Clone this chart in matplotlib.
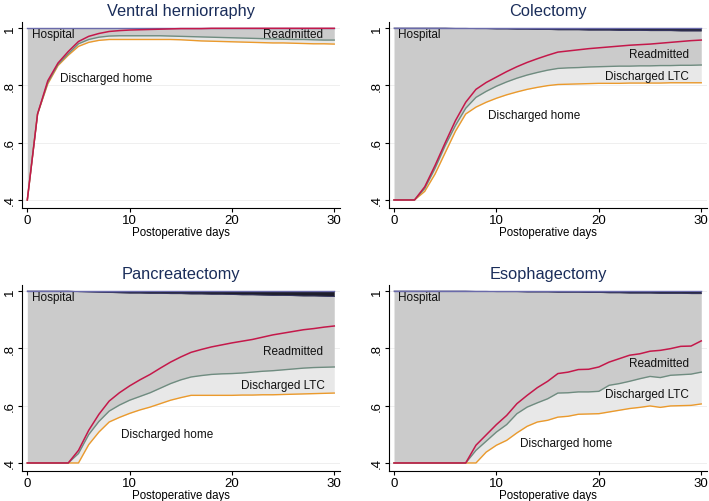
import numpy as np
import matplotlib
matplotlib.use("Agg")
import matplotlib.pyplot as plt

plt.rcParams['font.family'] = ['Liberation Sans', 'DejaVu Sans']

days = list(range(31))

# 值低於 .4 的部分以 0 記錄，繪圖時夾到 .4
# Ventral herniorraphy
vh_home = [0.0, 0.70, 0.805, 0.869, 0.905, 0.936, 0.950, 0.957, 0.960, 0.960, 0.960, 0.960, 0.960, 0.960, 0.960,
           0.959, 0.957, 0.955, 0.954, 0.953, 0.952, 0.951, 0.950, 0.949, 0.948, 0.948, 0.947, 0.946, 0.945, 0.945, 0.944]
vh_ltc = [0.0, 0.70, 0.81, 0.873, 0.91, 0.945, 0.960, 0.968, 0.972, 0.973, 0.973, 0.973, 0.973, 0.973, 0.972,
          0.971, 0.970, 0.969, 0.968, 0.967, 0.966, 0.965, 0.964, 0.963, 0.962, 0.961, 0.960, 0.960, 0.959, 0.958, 0.958]
vh_readm = [0.0, 0.70, 0.816, 0.878, 0.918, 0.953, 0.971, 0.981, 0.988, 0.991, 0.993, 0.994, 0.995, 0.996, 0.997,
            0.998, 0.998, 0.998, 0.999, 0.999, 0.999, 0.999, 0.999, 0.999, 0.999, 0.999, 0.999, 0.999, 0.999, 0.999, 0.999]
vh_hosp = [1.0, 1.0, 1.0, 1.0, 1.0, 1.0, 1.0, 1.0, 1.0, 1.0, 1.0, 1.0, 1.0, 1.0, 1.0,
           1.0, 1.0, 1.0, 1.0, 1.0, 1.0, 1.0, 1.0, 1.0, 1.0, 1.0, 1.0, 1.0, 1.0, 1.0, 1.0]

# Colectomy
co_home = [0.0, 0.0, 0.0, 0.43, 0.49, 0.565, 0.64, 0.70, 0.724, 0.741, 0.755, 0.767, 0.777, 0.786, 0.793,
           0.799, 0.803, 0.804, 0.805, 0.806, 0.807, 0.807, 0.807, 0.808, 0.808, 0.808, 0.808, 0.809, 0.809, 0.809, 0.809]
co_ltc = [0.0, 0.0, 0.0, 0.44, 0.51, 0.59, 0.66, 0.72, 0.758, 0.779, 0.797, 0.812, 0.825, 0.836, 0.845,
          0.853, 0.859, 0.861, 0.862, 0.864, 0.865, 0.866, 0.867, 0.867, 0.868, 0.868, 0.869, 0.869, 0.870, 0.870, 0.871]
co_readm = [0.0, 0.0, 0.0, 0.446, 0.52, 0.60, 0.677, 0.741, 0.786, 0.810, 0.829, 0.848, 0.865, 0.880, 0.893,
            0.905, 0.916, 0.920, 0.924, 0.928, 0.931, 0.934, 0.937, 0.940, 0.942, 0.944, 0.947, 0.950, 0.953, 0.956, 0.958]
co_hosp = [1.0, 1.0, 1.0, 1.0, 1.0, 1.0, 0.999, 0.999, 0.998, 0.998, 0.997, 0.997, 0.996, 0.996, 0.995,
           0.995, 0.994, 0.994, 0.994, 0.993, 0.993, 0.993, 0.992, 0.992, 0.992, 0.991, 0.991, 0.991, 0.990, 0.990, 0.990]

# Pancreatectomy
pa_home = [0.0, 0.0, 0.0, 0.0, 0.0, 0.0, 0.464, 0.508, 0.543, 0.559, 0.573, 0.585, 0.595, 0.607, 0.619,
           0.628, 0.636, 0.636, 0.636, 0.636, 0.636, 0.637, 0.637, 0.638, 0.638, 0.639, 0.640, 0.641, 0.642, 0.643, 0.644]
pa_ltc = [0.0, 0.0, 0.0, 0.0, 0.0, 0.433, 0.499, 0.545, 0.581, 0.602, 0.619, 0.632, 0.645, 0.661, 0.677,
          0.690, 0.700, 0.705, 0.709, 0.711, 0.712, 0.714, 0.717, 0.720, 0.722, 0.725, 0.728, 0.731, 0.733, 0.734, 0.735]
pa_readm = [0.0, 0.0, 0.0, 0.0, 0.0, 0.444, 0.514, 0.57, 0.616, 0.645, 0.669, 0.690, 0.709, 0.731, 0.752,
            0.770, 0.786, 0.796, 0.805, 0.812, 0.819, 0.825, 0.831, 0.839, 0.847, 0.853, 0.859, 0.865, 0.869, 0.874, 0.878]
pa_hosp = [1.0, 1.0, 1.0, 1.0, 1.0, 0.998, 0.997, 0.996, 0.995, 0.994, 0.993, 0.993, 0.992, 0.992, 0.991,
           0.991, 0.990, 0.990, 0.989, 0.989, 0.988, 0.987, 0.987, 0.986, 0.985, 0.985, 0.984, 0.983, 0.983, 0.982, 0.981]

# Esophagectomy
es_home = [0.0, 0.0, 0.0, 0.0, 0.0, 0.0, 0.0, 0.0, 0.0, 0.438, 0.462, 0.479, 0.505, 0.528, 0.543,
           0.549, 0.560, 0.563, 0.570, 0.571, 0.572, 0.578, 0.584, 0.590, 0.594, 0.599, 0.594, 0.599, 0.600, 0.601, 0.606]
es_ltc = [0.0, 0.0, 0.0, 0.0, 0.0, 0.0, 0.0, 0.0, 0.444, 0.476, 0.508, 0.534, 0.572, 0.595, 0.610,
          0.624, 0.644, 0.645, 0.648, 0.648, 0.650, 0.671, 0.677, 0.685, 0.694, 0.702, 0.698, 0.706, 0.708, 0.710, 0.717]
es_readm = [0.0, 0.0, 0.0, 0.0, 0.0, 0.0, 0.0, 0.0, 0.462, 0.498, 0.534, 0.566, 0.607, 0.636, 0.663,
            0.685, 0.712, 0.717, 0.726, 0.727, 0.735, 0.752, 0.764, 0.776, 0.781, 0.790, 0.793, 0.799, 0.807, 0.808, 0.826]
es_hosp = [1.0, 1.0, 1.0, 1.0, 1.0, 1.0, 1.0, 1.0, 0.999, 0.999, 0.998, 0.998, 0.998, 0.997, 0.997,
           0.997, 0.996, 0.996, 0.996, 0.995, 0.995, 0.994, 0.994, 0.993, 0.993, 0.993, 0.992, 0.992, 0.992, 0.991, 0.991]

titles = ['Ventral herniorraphy', 'Colectomy', 'Pancreatectomy', 'Esophagectomy']

# 標籤位置 (x, y, ha)
labels_vh = [('Hospital', 0.42, 0.979, 'left'), ('Readmitted', 28.9, 0.979, 'right'),
             ('Discharged home', 3.2, 0.826, 'left')]
labels_co = [('Hospital', 0.42, 0.979, 'left'), ('Readmitted', 28.8, 0.909, 'right'),
             ('Discharged LTC', 28.8, 0.834, 'right'), ('Discharged home', 9.2, 0.698, 'left')]
labels_pa = [('Hospital', 0.42, 0.979, 'left'), ('Readmitted', 28.9, 0.789, 'right'),
             ('Discharged LTC', 29.1, 0.671, 'right'), ('Discharged home', 9.2, 0.50, 'left')]
labels_es = [('Hospital', 0.42, 0.979, 'left'), ('Readmitted', 28.8, 0.749, 'right'),
             ('Discharged LTC', 28.8, 0.64, 'right'), ('Discharged home', 12.3, 0.471, 'left')]

W, H = 709, 502
fig = plt.figure(figsize=(W / 100, H / 100), dpi=100)

# axes 位置（像素：左、右、上、下）
boxes = [(22.2, 340.4, 23.3, 209), (388.9, 707.4, 23.3, 209),
         (22.2, 340.4, 286.3, 472), (388.9, 707.4, 286.3, 472)]

panels = [
    (vh_home, vh_ltc, vh_readm, vh_hosp, labels_vh),
    (co_home, co_ltc, co_readm, co_hosp, labels_co),
    (pa_home, pa_ltc, pa_readm, pa_hosp, labels_pa),
    (es_home, es_ltc, es_readm, es_hosp, labels_es),
]

c_gray = '#cbcbcb'
c_light = '#e8e8e8'
c_dark = '#1e1e2c'
c_orange = '#eb9a2c'
c_green = '#6f8c80'
c_red = '#c4184a'
c_top = '#6a6aaa'
c_title = '#1a2d5a'

x = np.array(days)
for (l, r, t, b), title, (home, ltc, readm, hosp, labs) in zip(boxes, titles, panels):
    ax = fig.add_axes([l / W, 1 - b / H, (r - l) / W, (b - t) / H])
    home = np.clip(home, 0.4, None)
    ltc = np.clip(ltc, 0.4, None)
    readm = np.clip(readm, 0.4, None)
    hosp = np.clip(hosp, 0.4, None)

    ax.fill_between(x, home, ltc, color=c_light, lw=0)
    ax.fill_between(x, ltc, hosp, color=c_gray, lw=0)
    ax.fill_between(x, hosp, 1.0, color=c_dark, lw=0)
    ax.plot(x, hosp, color='#3a3a6a', lw=0.6)
    ax.plot(x, np.ones(len(x)), color=c_top, lw=1.0)
    ax.plot(x, home, color=c_orange, lw=1.0)
    ax.plot(x, ltc, color=c_green, lw=1.0)
    ax.plot(x, readm, color=c_red, lw=1.1)

    for txt, tx, ty, ha in labs:
        ax.text(tx, ty, txt, ha=ha, va='center', fontsize=8.5, color='#111111')

    ax.set_xlim(-0.5, 30.6)
    ax.set_ylim(0.372, 1.02)
    ax.set_xticks([0, 10, 20, 30])
    ax.set_yticks([0.4, 0.6, 0.8, 1.0])
    ax.set_yticklabels(['.4', '.6', '.8', '1'], rotation=90, va='center')
    ax.grid(axis='y', color='#ececec', lw=0.6)
    ax.set_axisbelow(True)
    for s in ['top', 'right']:
        ax.spines[s].set_visible(False)
    for s in ['left', 'bottom']:
        ax.spines[s].set_linewidth(0.8)
    ax.tick_params(labelsize=9.5, length=3, width=0.8, pad=1.5)
    ax.set_xlabel('Postoperative days', fontsize=8.3, labelpad=0)
    ax.set_title(title, fontsize=11.8, color=c_title, pad=5)

fig.savefig('out.png', dpi=100)
